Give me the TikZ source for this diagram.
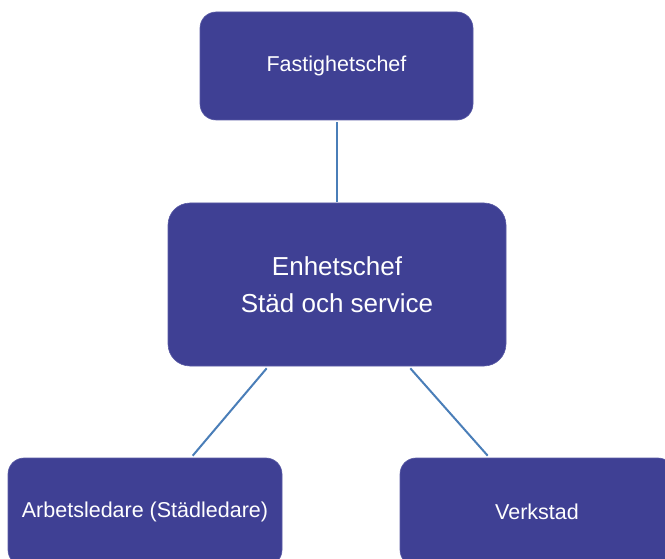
\documentclass[tikz,border=0pt]{standalone}
\usepackage{fontspec}
\setmainfont{Liberation Sans}
\usetikzlibrary{calc}
\definecolor{boxfill}{RGB}{63,64,148}
\definecolor{boxedge}{RGB}{90,92,165}
\definecolor{linkcol}{RGB}{74,126,184}
\begin{document}
\begin{tikzpicture}[x=1pt,y=-1pt,
  orgbox/.style={draw=boxedge, line width=0.6pt, fill=boxfill, text=white,
    rounded corners=16pt, inner sep=0pt, align=center,
    font=\fontsize{21.5}{26}\selectfont},
  link/.style={draw=linkcol, line width=2pt}]
\useasboundingbox (0,0) rectangle (665,559);
\node[orgbox, minimum width=273pt, minimum height=108pt] (fc) at (336.5,66) {Fastighetschef};
\node[orgbox, rounded corners=22pt, minimum width=338pt, minimum height=163pt,
  font=\fontsize{26}{37}\selectfont] (ec) at (337,284.5) {Enhetschef\\Städ och service};
\node[orgbox, minimum width=274pt, minimum height=108pt] (al) at (145,512) {Arbetsledare (Städledare)};
\node[orgbox, minimum width=274pt, minimum height=108pt] (vk) at (537,512) {Verkstad};
\draw[link] ($(fc.south)+(0.5,2)$) -- ($(ec.north)+(0,-1)$);
\draw[link] ($(ec.south west)+(99,2)$) -- ($(al.north west)+(185,-2)$);
\draw[link] ($(ec.south east)+(-96,2)$) -- ($(vk.north west)+(88,-2)$);
\end{tikzpicture}
\end{document}
